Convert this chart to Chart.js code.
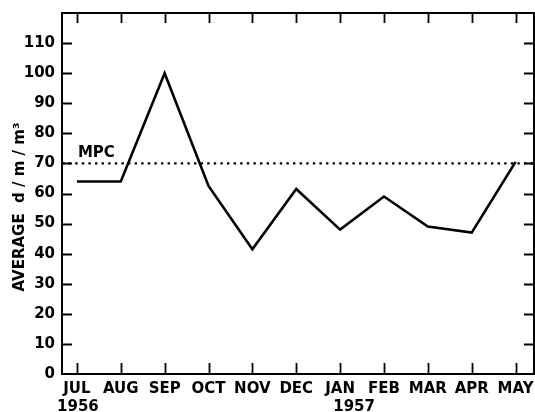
<!DOCTYPE html>
<html>
<head>
<meta charset="utf-8">
<script src="https://cdn.jsdelivr.net/npm/chart.js@4.4.1/dist/chart.umd.min.js"></script>
<style>
  html, body { margin: 0; padding: 0; background: #fff; }
  #wrap { width: 535px; height: 412px; }
</style>
</head>
<body>
<div id="wrap"><canvas id="c" width="535" height="412"></canvas></div>
<script>
// Monthly average activity, July 1956 – May 1957
const months = ['JUL', 'AUG', 'SEP', 'OCT', 'NOV', 'DEC', 'JAN', 'FEB', 'MAR', 'APR', 'MAY'];
const values = [64, 64, 100, 62.5, 41.5, 61.5, 48, 59, 49, 47, 70.5];
const years = [{ index: 0, text: '1956' }, { index: 6, text: '1957' }];
const yTickValues = [0, 10, 20, 30, 40, 50, 60, 70, 80, 90, 100, 110];
const mpcValue = 70;
const mpcLabel = 'MPC';
const yTitle = 'AVERAGE  d / m / m³';

const X_MIN = -0.34, X_MAX = 10.42, Y_MIN = 0, Y_MAX = 120;
const FONT = '"DejaVu Sans", sans-serif';

// Frame, inward tick marks, year captions, MPC caption and axis title
const decorations = {
  id: 'decorations',
  afterDraw(chart) {
    const { ctx, chartArea: a, scales: { x, y } } = chart;
    ctx.save();
    ctx.strokeStyle = '#000';
    ctx.lineWidth = 2;
    ctx.strokeRect(a.left, a.top, a.right - a.left, a.bottom - a.top);

    ctx.lineWidth = 1.8;
    ctx.beginPath();
    months.forEach((m, i) => {
      const px = Math.round(x.getPixelForValue(i)) + 0.5;
      ctx.moveTo(px, a.bottom); ctx.lineTo(px, a.bottom - 11);
      ctx.moveTo(px, a.top); ctx.lineTo(px, a.top + 10);
    });
    yTickValues.forEach(v => {
      if (v === Y_MIN) return;
      const py = Math.round(y.getPixelForValue(v)) + 0.5;
      ctx.moveTo(a.left, py); ctx.lineTo(a.left + 10, py);
      ctx.moveTo(a.right, py); ctx.lineTo(a.right - 10, py);
    });
    ctx.stroke();

    ctx.fillStyle = '#000';
    ctx.font = 'bold 15px ' + FONT;
    ctx.textBaseline = 'alphabetic';
    years.forEach(yr => {
      ctx.textAlign = 'center';
      const shift = yr.index === 0 ? 1 : 14;
      ctx.fillText(yr.text, x.getPixelForValue(yr.index) + shift, 411);
    });

    ctx.textAlign = 'left';
    ctx.fillText(mpcLabel, x.getPixelForValue(0) + 1, y.getPixelForValue(mpcValue) - 6);

    ctx.translate(24, 207);
    ctx.rotate(-Math.PI / 2);
    ctx.textAlign = 'center';
    ctx.textBaseline = 'alphabetic';
    ctx.fillText(yTitle, 0, 0);
    ctx.restore();
  }
};

new Chart(document.getElementById('c'), {
  type: 'line',
  data: {
    datasets: [
      {
        data: values.map((v, i) => ({ x: i, y: v })),
        borderColor: '#000',
        borderWidth: 2.6,
        pointRadius: 0,
        tension: 0,
        fill: false
      },
      {
        data: [{ x: X_MIN, y: mpcValue }, { x: X_MAX, y: mpcValue }],
        borderColor: '#000',
        borderWidth: 2.4,
        borderDash: [2.4, 4.2],
        pointRadius: 0,
        fill: false
      }
    ]
  },
  options: {
    responsive: false,
    animation: false,
    devicePixelRatio: 1,
    layout: { padding: { top: 13, right: 1, left: 0, bottom: 0 } },
    plugins: { legend: { display: false }, tooltip: { enabled: false } },
    scales: {
      x: {
        type: 'linear',
        min: X_MIN,
        max: X_MAX,
        afterBuildTicks: s => { s.ticks = months.map((m, i) => ({ value: i })); },
        afterFit: s => { s.height = 38; s.paddingLeft = 0; s.paddingRight = 0; },
        grid: { display: false, drawTicks: false },
        border: { display: false },
        ticks: {
          autoSkip: false,
          maxRotation: 0,
          padding: 6,
          color: '#000',
          font: { family: FONT, size: 15, weight: 'bold' },
          callback: v => months[v]
        }
      },
      y: {
        min: Y_MIN,
        max: Y_MAX,
        afterBuildTicks: s => { s.ticks = yTickValues.map(v => ({ value: v })); },
        afterFit: s => { s.width = 62; s.paddingTop = 0; s.paddingBottom = 0; },
        grid: { display: false, drawTicks: false },
        border: { display: false },
        ticks: {
          padding: 7,
          color: '#000',
          font: { family: FONT, size: 15, weight: 'bold' }
        }
      }
    }
  },
  plugins: [decorations]
});
</script>
</body>
</html>
